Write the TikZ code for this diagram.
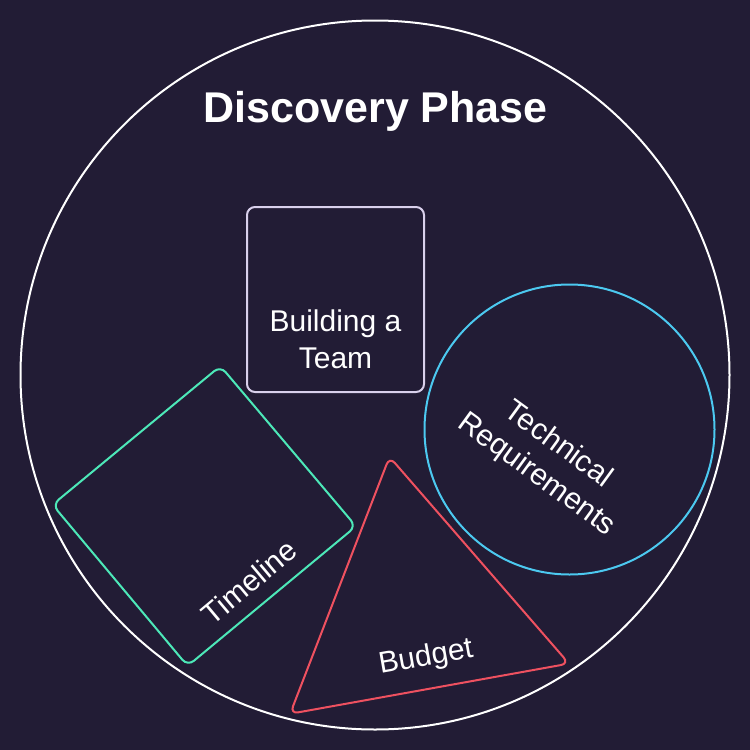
\documentclass[tikz,border=0pt]{standalone}
\usepackage{fontspec}
\setmainfont{Liberation Sans}
\usepackage{tikz}

\definecolor{bgdark}{HTML}{221C35}
\definecolor{teamlav}{HTML}{D9D0EC}
\definecolor{techcyan}{HTML}{4CC9F0}
\definecolor{timegreen}{HTML}{4DE8B8}
\definecolor{budgetred}{HTML}{EF5160}

\begin{document}
\begin{tikzpicture}[x=1pt, y=-1pt,
    outline/.style={line width=2pt},
    itemtext/.style={text=white, font=\fontsize{30}{37}\selectfont, inner sep=0pt, align=center}
    ]

            \fill[bgdark] (0,0) rectangle (750,750);
            \useasboundingbox (0,0) rectangle (750,750);

            % outer phase
            \draw[white, outline] (375,375) circle (354.5pt);
            \node[text=white, font=\fontsize{43}{50}\selectfont\bfseries, anchor=base] (title) at (375.5,122.5) {Discovery Phase};

            \begin{scope}[outline, rounded corners=8pt]
                \draw[teamlav] (247,207) rectangle (424,392);
                \draw[timegreen] (220.4,366) -- (356,526.3) -- (187.6,666) -- (52.5,504.7) -- cycle;
                \draw[budgetred] (389.5,456.8) -- (569,663.6) -- (290.1,713.8) -- cycle;
            \end{scope}
            \draw[techcyan, outline] (569.5,429.5) circle (145pt);

            \node[itemtext] (team) at (335.5,339) {Building a\\Team};
            \node[itemtext, rotate=-36] (tech) at (547,460) {Technical\\Requirements};
            \node[itemtext, rotate=40] (timeline) at (249,582) {Timeline};
            \node[itemtext, rotate=10] (budget) at (426,658) {Budget};

            \end{tikzpicture}
\end{document}
